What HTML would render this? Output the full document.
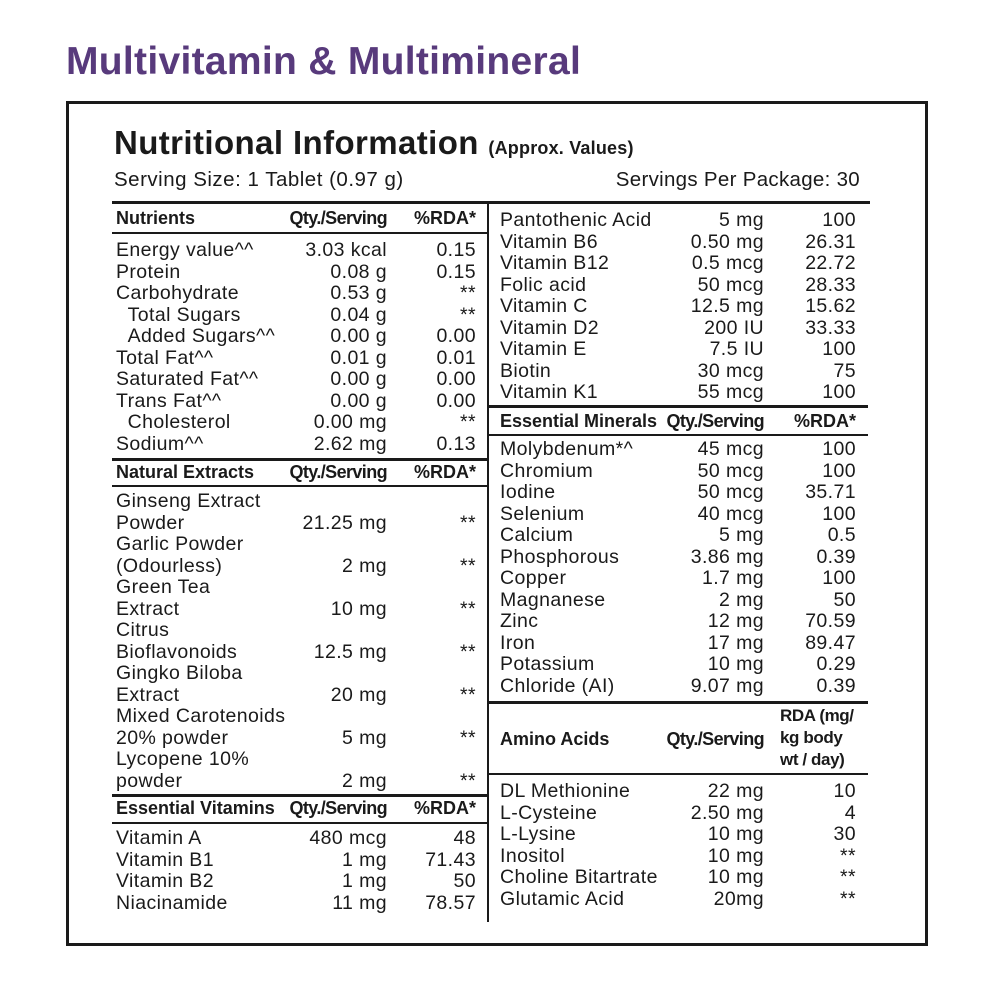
<!DOCTYPE html><html><head><meta charset="utf-8"><style>
body{margin:0;width:1000px;height:1000px;background:#fff;position:relative;font-family:"Liberation Sans",sans-serif;color:#1a1a1a;overflow:hidden}
.a{position:absolute}
.t{position:absolute;left:66px;top:40px;font-size:39px;font-weight:bold;color:#583a7c;letter-spacing:0.3px}
.box{position:absolute;left:66px;top:101px;width:856px;height:839px;border:3px solid #1a1a1a}
.h{position:absolute;height:3px;background:#1a1a1a}
.v{position:absolute;width:2px;background:#1a1a1a}
.r{position:absolute;height:22px;line-height:22px;font-size:19.5px;letter-spacing:0.4px;white-space:nowrap}
.r .q,.r .d{position:absolute;top:0}
.L{left:116px;width:360px}.L .q{right:89px}.L .d{right:0}
.R{left:500px;width:356px}.R .q{right:92px}.R .d{right:0}
.hd{font-weight:bold;font-size:18px;letter-spacing:0px}
.hd .q{letter-spacing:-0.6px}
</style></head><body>
<div class="t">Multivitamin &amp; Multimineral</div>
<div class="box"></div>
<div class="a" style="left:114px;top:124px;font-size:33px;font-weight:bold;letter-spacing:0.4px">Nutritional Information <span style="font-size:18px;letter-spacing:0.2px">(Approx. Values)</span></div>
<div class="a" style="left:114px;top:168px;font-size:20.5px;letter-spacing:0.5px">Serving Size: 1 Tablet (0.97 g)</div>
<div class="a" style="right:140px;top:168px;font-size:20.5px;letter-spacing:0.3px">Servings Per Package: 30</div>
<div class="h" style="left:112px;top:201px;width:758px"></div>
<div class="v" style="left:487px;top:201px;height:721px"></div>
<div class="h" style="left:112px;top:232px;width:376px;height:2px"></div>
<div class="h" style="left:112px;top:458px;width:376px"></div>
<div class="h" style="left:112px;top:485px;width:376px;height:2px"></div>
<div class="h" style="left:112px;top:794px;width:376px"></div>
<div class="h" style="left:112px;top:822px;width:376px;height:2px"></div>
<div class="h" style="left:488px;top:405px;width:380px"></div>
<div class="h" style="left:488px;top:434px;width:380px;height:2px"></div>
<div class="h" style="left:488px;top:701px;width:380px"></div>
<div class="h" style="left:488px;top:773px;width:380px;height:2px"></div>

<div class="r L hd" style="top:207px">Nutrients<span class="q">Qty./Serving</span><span class="d">%RDA*</span></div>
<div class="r L" style="top:239px">Energy value^^<span class="q">3.03 kcal</span><span class="d">0.15</span></div>
<div class="r L" style="top:260.5px">Protein<span class="q">0.08 g</span><span class="d">0.15</span></div>
<div class="r L" style="top:282px">Carbohydrate<span class="q">0.53 g</span><span class="d">**</span></div>
<div class="r L" style="top:303.5px">&nbsp;&nbsp;Total Sugars<span class="q">0.04 g</span><span class="d">**</span></div>
<div class="r L" style="top:325px">&nbsp;&nbsp;Added Sugars^^<span class="q">0.00 g</span><span class="d">0.00</span></div>
<div class="r L" style="top:346.5px">Total Fat^^<span class="q">0.01 g</span><span class="d">0.01</span></div>
<div class="r L" style="top:368px">Saturated Fat^^<span class="q">0.00 g</span><span class="d">0.00</span></div>
<div class="r L" style="top:389.5px">Trans Fat^^<span class="q">0.00 g</span><span class="d">0.00</span></div>
<div class="r L" style="top:411px">&nbsp;&nbsp;Cholesterol<span class="q">0.00 mg</span><span class="d">**</span></div>
<div class="r L" style="top:432.5px">Sodium^^<span class="q">2.62 mg</span><span class="d">0.13</span></div>

<div class="r L hd" style="top:461px">Natural Extracts<span class="q">Qty./Serving</span><span class="d">%RDA*</span></div>
<div class="r L" style="top:490px">Ginseng Extract</div>
<div class="r L" style="top:511.5px">Powder<span class="q">21.25 mg</span><span class="d">**</span></div>
<div class="r L" style="top:533px">Garlic Powder</div>
<div class="r L" style="top:554.5px">(Odourless)<span class="q">2 mg</span><span class="d">**</span></div>
<div class="r L" style="top:576px">Green Tea</div>
<div class="r L" style="top:597.5px">Extract<span class="q">10 mg</span><span class="d">**</span></div>
<div class="r L" style="top:619px">Citrus</div>
<div class="r L" style="top:640.5px">Bioflavonoids<span class="q">12.5 mg</span><span class="d">**</span></div>
<div class="r L" style="top:662px">Gingko Biloba</div>
<div class="r L" style="top:683.5px">Extract<span class="q">20 mg</span><span class="d">**</span></div>
<div class="r L" style="top:705px">Mixed Carotenoids</div>
<div class="r L" style="top:726.5px">20% powder<span class="q">5 mg</span><span class="d">**</span></div>
<div class="r L" style="top:748px">Lycopene 10%</div>
<div class="r L" style="top:769.5px">powder<span class="q">2 mg</span><span class="d">**</span></div>

<div class="r L hd" style="top:797px">Essential Vitamins<span class="q">Qty./Serving</span><span class="d">%RDA*</span></div>
<div class="r L" style="top:827px">Vitamin A<span class="q">480 mcg</span><span class="d">48</span></div>
<div class="r L" style="top:848.5px">Vitamin B1<span class="q">1 mg</span><span class="d">71.43</span></div>
<div class="r L" style="top:870px">Vitamin B2<span class="q">1 mg</span><span class="d">50</span></div>
<div class="r L" style="top:891.5px">Niacinamide<span class="q">11 mg</span><span class="d">78.57</span></div>

<div class="r R" style="top:209px">Pantothenic Acid<span class="q">5 mg</span><span class="d">100</span></div>
<div class="r R" style="top:230.5px">Vitamin B6<span class="q">0.50 mg</span><span class="d">26.31</span></div>
<div class="r R" style="top:252px">Vitamin B12<span class="q">0.5 mcg</span><span class="d">22.72</span></div>
<div class="r R" style="top:273.5px">Folic acid<span class="q">50 mcg</span><span class="d">28.33</span></div>
<div class="r R" style="top:295px">Vitamin C<span class="q">12.5 mg</span><span class="d">15.62</span></div>
<div class="r R" style="top:316.5px">Vitamin D2<span class="q">200 IU</span><span class="d">33.33</span></div>
<div class="r R" style="top:338px">Vitamin E<span class="q">7.5 IU</span><span class="d">100</span></div>
<div class="r R" style="top:359.5px">Biotin<span class="q">30 mcg</span><span class="d">75</span></div>
<div class="r R" style="top:381px">Vitamin K1<span class="q">55 mcg</span><span class="d">100</span></div>

<div class="r R hd" style="top:410px">Essential Minerals<span class="q">Qty./Serving</span><span class="d">%RDA*</span></div>
<div class="r R" style="top:438px">Molybdenum*^<span class="q">45 mcg</span><span class="d">100</span></div>
<div class="r R" style="top:459.5px">Chromium<span class="q">50 mcg</span><span class="d">100</span></div>
<div class="r R" style="top:481px">Iodine<span class="q">50 mcg</span><span class="d">35.71</span></div>
<div class="r R" style="top:502.5px">Selenium<span class="q">40 mcg</span><span class="d">100</span></div>
<div class="r R" style="top:524px">Calcium<span class="q">5 mg</span><span class="d">0.5</span></div>
<div class="r R" style="top:545.5px">Phosphorous<span class="q">3.86 mg</span><span class="d">0.39</span></div>
<div class="r R" style="top:567px">Copper<span class="q">1.7 mg</span><span class="d">100</span></div>
<div class="r R" style="top:588.5px">Magnanese<span class="q">2 mg</span><span class="d">50</span></div>
<div class="r R" style="top:610px">Zinc<span class="q">12 mg</span><span class="d">70.59</span></div>
<div class="r R" style="top:631.5px">Iron<span class="q">17 mg</span><span class="d">89.47</span></div>
<div class="r R" style="top:653px">Potassium<span class="q">10 mg</span><span class="d">0.29</span></div>
<div class="r R" style="top:674.5px">Chloride (AI)<span class="q">9.07 mg</span><span class="d">0.39</span></div>

<div class="r R hd" style="top:728px">Amino Acids<span class="q">Qty./Serving</span></div>
<div class="a" style="left:780px;top:705px;font-size:17px;font-weight:bold;line-height:22px;letter-spacing:-0.4px">RDA (mg/<br>kg body<br>wt / day)</div>
<div class="r R" style="top:780px">DL Methionine<span class="q">22 mg</span><span class="d">10</span></div>
<div class="r R" style="top:801.5px">L-Cysteine<span class="q">2.50 mg</span><span class="d">4</span></div>
<div class="r R" style="top:823px">L-Lysine<span class="q">10 mg</span><span class="d">30</span></div>
<div class="r R" style="top:844.5px">Inositol<span class="q">10 mg</span><span class="d">**</span></div>
<div class="r R" style="top:866px">Choline Bitartrate<span class="q">10 mg</span><span class="d">**</span></div>
<div class="r R" style="top:887.5px">Glutamic Acid<span class="q">20mg</span><span class="d">**</span></div>
</body></html>
